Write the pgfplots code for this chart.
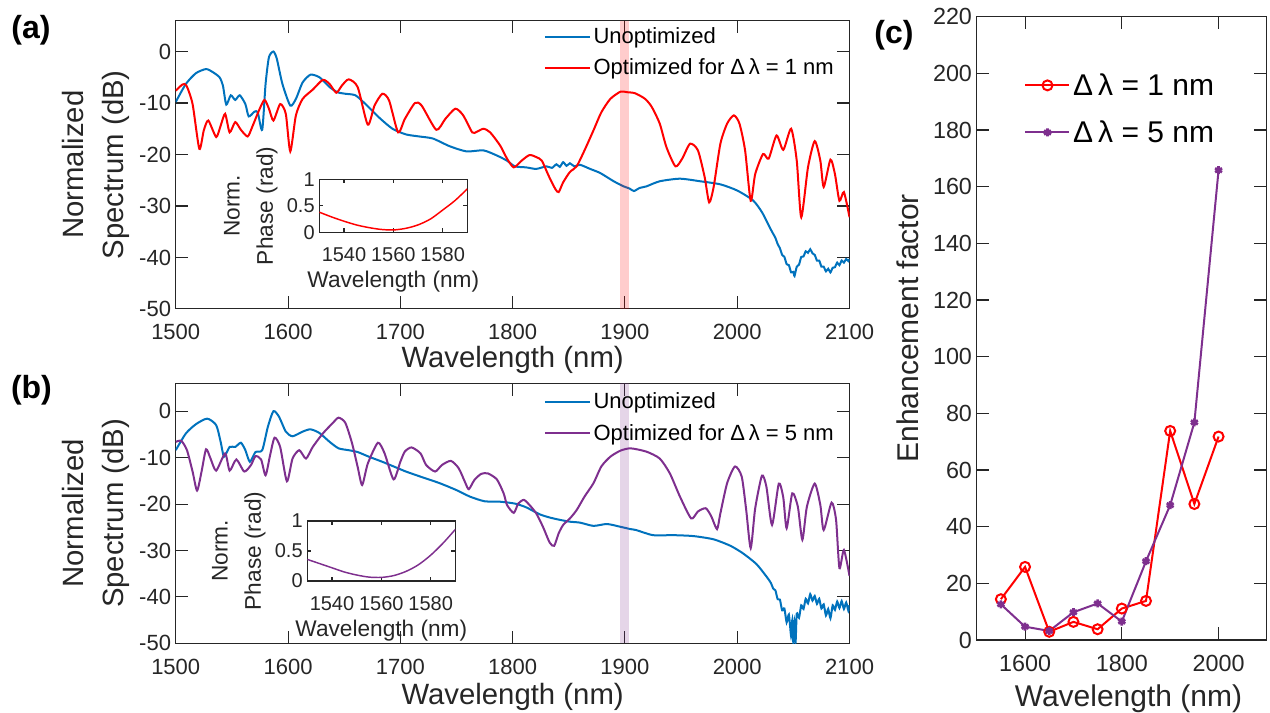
\documentclass[border=0pt]{standalone}
\usepackage{fontspec}
\setmainfont{Liberation Sans}
\usepackage{pgfplots}
\pgfplotsset{compat=1.18}
\usepackage{pgfplotstable}

\definecolor{mblue}{RGB}{0,114,189}
\definecolor{mpurple}{RGB}{126,47,142}
\definecolor{mred}{RGB}{255,0,0}
\definecolor{axgray}{RGB}{38,38,38}

% (a) unoptimized spectrum
\pgfplotstableread{
x y
1500 -9.8
1509 -6.3
1518 -4.2
1527 -3.4
1533 -4.0
1539 -5.0
1542 -6.6
1545 -10.3
1549 -8.5
1553 -9.4
1557 -8.5
1562 -10.2
1565 -12.6
1570 -11.7
1573 -11.8
1577 -15.2
1580 -6.3
1583 -1.1
1587 0
1590 -1.4
1595 -6.3
1602 -10.5
1607 -9.2
1613 -6.0
1620 -4.5
1628 -5.0
1637 -6.9
1644 -7.9
1651 -8.2
1660 -8.5
1669 -10.2
1681 -12.8
1693 -15.0
1705 -16.1
1717 -16.5
1729 -16.9
1744 -18.4
1759 -19.4
1774 -19.2
1786 -20.2
1795 -21.2
1802 -22.3
1812 -22.5
1821 -22.8
1830 -22.3
1835 -22.6
1839 -21.9
1842 -22.4
1845 -21.5
1848 -22.2
1851 -21.7
1855 -22.3
1860 -22.0
1869 -22.8
1878 -23.6
1890 -25.2
1899 -26.2
1904 -26.6
1908 -27.1
1913 -26.5
1919 -26.2
1931 -25.2
1949 -24.7
1967 -25.2
1985 -25.8
2000 -27.0
2014 -28.9
2022 -31.2
2030 -34.6
2032 -35.4
2034 -36.2
2036 -37.4
2038 -38.2
2040 -39.5
2042 -39.9
2044 -41.3
2046 -41.5
2048 -42.9
2050 -42.8
2051 -43.6
2053 -41.8
2055 -41.4
2057 -39.9
2059 -39.8
2061 -38.8
2063 -39.1
2065 -38.4
2067 -39.2
2069 -39.5
2071 -40.6
2073 -40.6
2075 -41.8
2077 -41.8
2079 -42.7
2081 -42.2
2083 -42.9
2085 -42.0
2087 -41.9
2089 -41.0
2091 -41.5
2093 -40.6
2095 -41.0
2097 -40.3
2099 -40.7
2100 -40.3
}\aBlue

% (a) optimized for 1 nm
\pgfplotstableread{
x y
1500 -7.6
1506 -6.4
1509.5 -6.6
1515 -10.2
1521 -18.9
1525 -15.3
1529 -13.4
1536 -16.6
1540 -14.4
1544 -12.1
1548 -15.7
1553 -13.7
1558 -15.2
1564 -16.5
1568 -14.7
1574 -11.5
1579 -9.4
1583 -11.1
1587 -13.4
1593 -10.2
1598 -12.1
1602 -19.4
1607 -12.4
1613 -9.2
1622 -7.4
1631 -5.5
1637 -6.3
1643 -8.0
1648 -6.6
1654 -5.4
1662 -6.9
1671 -14.2
1677 -10.5
1684 -8.2
1690 -9.5
1698 -15.7
1704 -13.1
1713 -10.0
1719 -10.5
1732 -15.2
1740 -13.1
1749 -11.1
1756 -12.4
1764 -15.7
1768 -15.6
1774 -15.0
1780 -15.7
1789 -18.3
1795 -20.8
1801 -22.5
1808 -21.2
1815 -20.1
1821 -20.5
1826 -21.2
1832 -24.1
1838 -26.7
1841 -27.3
1845 -25.4
1851 -23.4
1857 -22.3
1864 -19.2
1872 -15.3
1879 -11.8
1887 -9.2
1896 -7.8
1902 -7.9
1909 -8.1
1918 -9.2
1924 -10.8
1931 -14.0
1937 -18.6
1945 -22.3
1951 -20.8
1958 -17.9
1965 -19.2
1971 -24.4
1975 -29.3
1979 -26.3
1985 -17.9
1991 -14.0
1997 -12.4
2002 -14.0
2007 -19.2
2012 -29.0
2016 -23.8
2023 -19.9
2028 -20.8
2035 -16.3
2041 -19.1
2048 -15.0
2053 -21.2
2057 -32.2
2063 -22.5
2069 -17.4
2074 -21.2
2077 -26.3
2083 -21.0
2087 -23.8
2091 -29.0
2095 -27.3
2100 -32.2
}\aRed

% (b) unoptimized spectrum
\pgfplotstableread{
x y
1500 -8.4
1509 -4.8
1518 -2.8
1528 -1.6
1536 -3.0
1540 -6.6
1543 -9.8
1548 -7.7
1553 -7.7
1558 -6.8
1562 -8.4
1566 -10.9
1571 -8.8
1577 -8.4
1582 -3.4
1587 0
1592 -1.2
1598 -4.4
1604 -5.4
1613 -4.4
1620 -3.9
1628 -4.7
1637 -6.6
1645 -8.0
1654 -8.4
1662 -8.8
1672 -9.8
1684 -10.9
1696 -12.1
1705 -13.0
1718 -14.1
1735 -15.5
1750 -17.0
1762 -18.4
1775 -19.4
1789 -19.5
1802 -19.9
1812 -20.7
1824 -22.2
1833 -22.9
1842 -23.4
1851 -23.8
1860 -24.0
1872 -24.7
1884 -24.3
1896 -24.9
1905 -25.4
1910 -25.6
1925 -26.7
1943 -26.7
1961 -26.9
1979 -27.6
1994 -29.0
2005 -30.6
2017 -32.9
2026 -35.6
2030 -37.0
2032 -38.2
2034 -38.6
2036 -40.5
2038 -40.6
2040 -42.9
2042 -42.5
2044 -45.5
2046 -43.8
2048 -48.5
2049 -45.0
2050 -50.0
2051 -45.5
2052 -49.5
2053 -43.6
2055 -44.5
2057 -41.8
2059 -42.6
2061 -40.4
2063 -41.4
2065 -39.4
2067 -40.8
2069 -39.8
2071 -41.5
2073 -40.4
2075 -42.5
2077 -41.6
2079 -44.0
2081 -42.6
2083 -44.6
2085 -41.8
2087 -42.8
2089 -41.0
2091 -42.4
2093 -40.9
2095 -42.6
2097 -41.2
2099 -43.0
2100 -41.8
}\bBlue

% (b) optimized for 5 nm
\pgfplotstableread{
x y
1500 -6.6
1505 -6.4
1510 -8.4
1515 -13.0
1519 -17.1
1523 -13.0
1527 -8.2
1531 -10.2
1536 -12.8
1544 -9.1
1548 -12.8
1554 -10.4
1561 -13.0
1567 -11.6
1571 -9.7
1576 -10.4
1580 -13.8
1584 -9.5
1588 -5.7
1593 -7.7
1599 -15.1
1604 -10.2
1610 -8.4
1616 -10.2
1622 -7.7
1631 -4.8
1640 -2.5
1645 -1.4
1651 -2.5
1657 -6.9
1662 -12.0
1666 -15.9
1671 -11.3
1680 -6.8
1686 -9.1
1694 -14.7
1700 -10.9
1704 -8.7
1710 -7.8
1718 -9.1
1723 -11.6
1731 -13.0
1737 -11.6
1745 -10.7
1752 -12.3
1758 -15.5
1761 -16.8
1766 -14.8
1772 -13.5
1778 -13.4
1786 -14.7
1792 -17.7
1795 -20.2
1801 -21.9
1805 -19.9
1810 -19.1
1815 -20.2
1821 -22.0
1827 -24.9
1833 -28.3
1837 -29.0
1841 -26.3
1845 -24.5
1851 -23.1
1857 -21.3
1864 -18.4
1872 -15.5
1879 -11.9
1887 -9.8
1896 -8.5
1905 -8.0
1919 -8.7
1931 -10.2
1940 -13.4
1949 -18.4
1959 -23.1
1965 -21.6
1972 -20.9
1977 -22.7
1982 -25.4
1985 -22.0
1991 -15.5
1998 -11.9
2004 -14.1
2008 -21.3
2012 -29.5
2016 -20.9
2022 -13.9
2026 -16.3
2031 -24.5
2037 -15.6
2041 -18.6
2044 -25.2
2049 -17.7
2054 -20.6
2058 -27.7
2062 -20.6
2069 -15.6
2074 -20.2
2077 -25.6
2084 -19.7
2088 -23.4
2091 -33.8
2095 -29.9
2100 -35.5
}\bPurple

% insets: normalized phase
\pgfplotstableread{
x y
1530 0.38
1535 0.29
1540 0.21
1545 0.14
1550 0.09
1555 0.055
1560 0.045
1565 0.075
1570 0.14
1575 0.25
1580 0.42
1585 0.60
1590 0.82
}\insA

\pgfplotstableread{
x y
1530 0.36
1535 0.29
1540 0.22
1545 0.15
1550 0.10
1555 0.065
1560 0.06
1565 0.09
1570 0.16
1575 0.27
1580 0.43
1585 0.63
1590 0.86
}\insB

% (c) enhancement factor
\pgfplotstableread{
x y
1550 14.4
1600 25.8
1650 2.9
1700 6.4
1750 3.8
1800 11.1
1850 13.8
1900 73.8
1950 48.0
2000 71.8
}\cRed

\pgfplotstableread{
x y
1550 12.6
1600 4.7
1650 3.2
1700 9.8
1750 12.9
1800 6.5
1850 27.8
1900 47.6
1950 76.8
2000 165.8
}\cPurple

\pgfplotsset{
  mat/.style={
    scale only axis,
    axis line style={axgray, line width=0.8pt},
    tick style={axgray, line width=0.8pt},
    tick align=inside,
    ticklabel style={text=axgray},
    label style={text=axgray},
    /pgf/number format/assume math mode=true,
    /pgf/number format/1000 sep={},
  },
  spec/.style={mat,
    width=505.35pt, xmin=1500, xmax=2100, ymin=-50, ymax=6,
    xtick={1500,1600,...,2100}, ytick={-50,-40,...,0},
    major tick length=9.5pt,
    xticklabel shift=8pt,
    tick label style={font=\fontsize{16.5}{19}\selectfont},
    xlabel={Wavelength (nm)},
    ylabel={Normalized\\Spectrum (dB)},
    label style={font=\fontsize{22}{30}\selectfont},
    ylabel style={align=center},
    legend cell align=left,
    legend style={draw=none, fill=none, font=\fontsize{16.5}{22}\selectfont, anchor=east, row sep=6pt},
    legend image code/.code={\draw[#1] (0pt,0pt) -- (33.75pt,0pt);},
  },
  inset/.style={mat,
    width=111pt, xmin=1530, xmax=1590, ymin=0, ymax=1,
    xtick={1540,1560,1580}, ytick={0,0.5,1},
    major tick length=3pt,
    xticklabel shift=8pt,
    tick label style={font=\fontsize{15}{18}\selectfont},
    label style={font=\fontsize{17}{25}\selectfont},
    xlabel={Wavelength (nm)},
    ylabel={Norm.\\Phase (rad)},
    ylabel style={align=center},
  },
}

\begin{document}
\begin{tikzpicture}
\path[use as bounding box] (0pt,0pt) rectangle (952.5pt,-534.75pt);

% panel (a)
\begin{axis}[spec, at={(131.8pt,-15.5pt)}, anchor=north west, height=216.2pt,
  xlabel style={yshift=2pt},
  legend style={at={(0.987,0.89)}}]
\addplot[mblue, line width=1.5pt, smooth, tension=0.4] table {\aBlue};
\addplot[mred, line width=1.5pt, smooth, tension=0.4] table {\aRed};
\addplot[draw=none, fill=mred, fill opacity=0.2, forget plot] coordinates {(1896,-50) (1896,6) (1904,6) (1904,-50)} -- cycle;
\legend{Unoptimized, Optimized for Δ\,λ = 1 nm}
\end{axis}
\begin{axis}[inset, at={(239.5pt,-134.5pt)}, anchor=north west, height=39.75pt]
\addplot[mred, line width=1.1pt, smooth] table {\insA};
\end{axis}

% panel (b)
\begin{axis}[spec, at={(131.8pt,-287.5pt)}, anchor=north west, height=195pt,
  legend style={at={(0.987,0.869)}}]
\addplot[mblue, line width=1.5pt, smooth, tension=0.4] table {\bBlue};
\addplot[mpurple, line width=1.5pt, smooth, tension=0.4] table {\bPurple};
\addplot[draw=none, fill=mpurple, fill opacity=0.2, forget plot] coordinates {(1896,-50) (1896,6) (1904,6) (1904,-50)} -- cycle;
\legend{Unoptimized, Optimized for Δ\,λ = 5 nm}
\end{axis}
\begin{axis}[inset, at={(230.5pt,-390.75pt)}, anchor=north west, height=45pt]
\addplot[mpurple, line width=1.1pt, smooth] table {\insB};
\end{axis}

% panel (c)
\begin{axis}[mat, at={(732.5pt,-12.5pt)}, anchor=north west,
  width=217.7pt, height=467.5pt,
  xmin=1500, xmax=2100, ymin=0, ymax=220,
  xtick={1600,1800,2000}, ytick={0,20,...,220},
  major tick length=9.5pt,
  xticklabel shift=7.5pt,
  tick label style={font=\fontsize{17.5}{20}\selectfont},
  label style={font=\fontsize{22.5}{26}\selectfont},
  xlabel={Wavelength (nm)}, ylabel={Enhancement factor},
  xlabel style={yshift=-3pt, xshift=5pt},
  ylabel style={yshift=4pt},
  legend cell align=left,
  legend style={draw=none, fill=none, font=\fontsize{22.5}{27}\selectfont,
    at={(0.15,0.852)}, anchor=west, row sep=13.5pt},
  legend image code/.code={\draw[mark repeat=2, mark phase=2, #1] plot coordinates {(0pt,0pt) (16.5pt,0pt) (33pt,0pt)};}]
\addplot[mred, line width=1.5pt, mark=o, mark size=3.75pt, mark options={line width=1.5pt}] table {\cRed};
\addplot[mpurple, line width=1.5pt, mark=asterisk, mark size=3pt, mark options={line width=2pt}] table {\cPurple};
\legend{Δ\,λ = 1 nm, Δ\,λ = 5 nm}
\end{axis}

% panel letters
\node[font=\fontsize{24}{28}\selectfont\bfseries] at (23.25pt,-22.5pt) {(a)};
\node[font=\fontsize{24}{28}\selectfont\bfseries] at (23.6pt,-292.5pt) {(b)};
\node[font=\fontsize{24}{28}\selectfont\bfseries] at (670.5pt,-26.25pt) {(c)};
\end{tikzpicture}
\end{document}
